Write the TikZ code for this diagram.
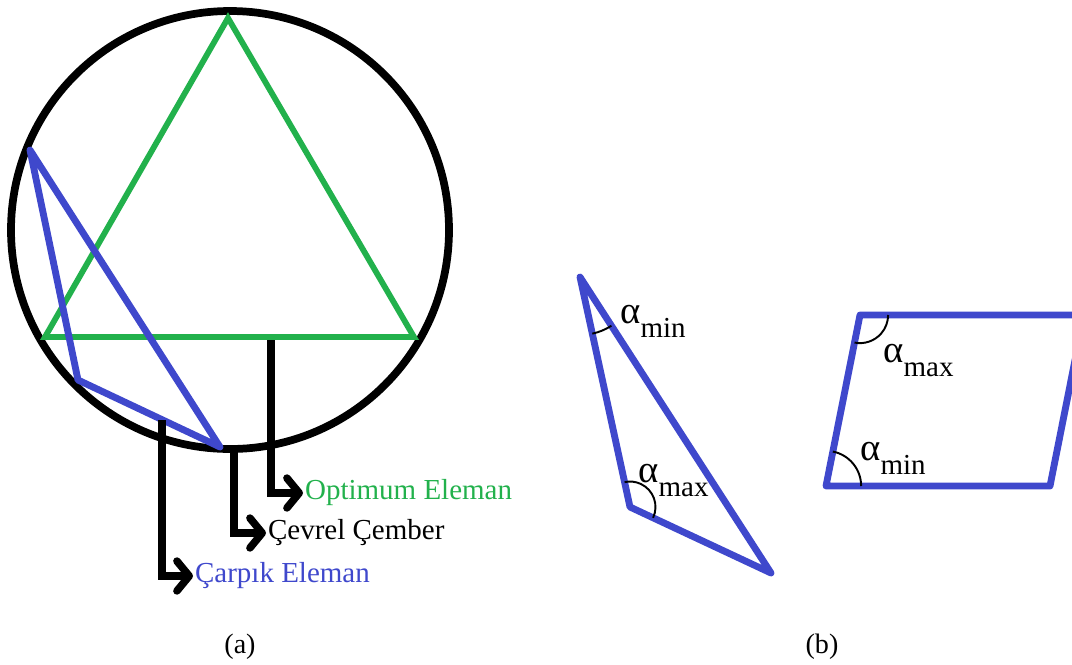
\documentclass[tikz,border=0pt]{standalone}
\usepackage{fontspec}
\setmainfont{Liberation Serif}
\usetikzlibrary{arrows.meta, angles}
\definecolor{optgreen}{RGB}{34,177,76}
\definecolor{skewblue}{RGB}{63,72,204}
\newcommand{\alp}[1]{{\fontsize{22pt}{22pt}\selectfont α}\raisebox{-8pt}{#1}}

\begin{document}
\begin{tikzpicture}[x=0.02cm, y=-0.02cm,
    circ/.style={draw, line width=4.4pt},
    opt/.style={draw=optgreen, line width=3.3pt},
    skew/.style={draw=skewblue, line width=3.9pt, line join=round},
    lead/.style={draw, line width=4.3pt, -{Straight Barb[length=7pt, width=17pt, line cap=round, line join=round]}},
    lbl/.style={anchor=west, inner sep=1pt, font=\fontsize{16.5pt}{18pt}\selectfont},
    ang/.style={draw, line width=1.1pt},
    alab/.style={anchor=base west, inner sep=0pt, font=\fontsize{16.5pt}{18pt}\selectfont},
    sublbl/.style={font=\fontsize{16pt}{18pt}\selectfont}
]
    \useasboundingbox (0,0) rectangle (1072,664);
    \clip (0,0) rectangle (1072,664);

    % (a) circumcircle with optimum and skewed element
    \draw[circ] (230,230) circle[radius=219];
    \draw[opt] (228,18) -- (414,337) -- (45,337) -- cycle;
    \draw[skew] (30,150) -- (78,380) -- (220,447) -- cycle;

    % Labels with leaders
    \node[lbl, text=optgreen] (lblopt) at (303,493) {Optimum Eleman};
    \node[lbl] (lblcev) at (266,533) {Çevrel Çember};
    \node[lbl, text=skewblue] (lblcar) at (193,576) {Çarpık Eleman};
    \coordinate (optfoot) at (271,340);
    \coordinate (cevfoot) at (234,447);
    \coordinate (carfoot) at (162,420);
    \draw[lead] (optfoot) |- (lblopt.west);
    \draw[lead] (cevfoot) |- (lblcev.west);
    \draw[lead] (carfoot) |- (lblcar.west);

    % (b) skewed triangle
    \coordinate (T1) at (580,277);
    \coordinate (T2) at (630,507);
    \coordinate (T3) at (771,573);
    \draw[skew] (T1) -- (T2) -- (T3) -- cycle;
    \pic[ang, angle radius=33pt] {angle = T2--T1--T3};
    \pic[ang, angle radius=14.5pt] {angle = T3--T2--T1};
    \node[alab] (tmin) at (620,323) {\alp{min}};
    \node[alab] (tmax) at (638,482) {\alp{max}};

    % (b) parallelogram
    \coordinate (P1) at (860,315);
    \coordinate (P2) at (1084,315);
    \coordinate (P3) at (1050,486);
    \coordinate (P4) at (826,486);
    \draw[skew] (P1) -- (P2) -- (P3) -- (P4) -- cycle;
    \pic[ang, angle radius=16pt] {angle = P4--P1--P2};
    \pic[ang, angle radius=20pt] {angle = P3--P4--P1};
    \node[alab] (pmax) at (883,362) {\alp{max}};
    \node[alab] (pmin) at (860,460) {\alp{min}};

    % Captions
    \node[sublbl] (capa) at (240,647) {(a)};
    \node[sublbl] (capb) at (822,647) {(b)};
\end{tikzpicture}
\end{document}
